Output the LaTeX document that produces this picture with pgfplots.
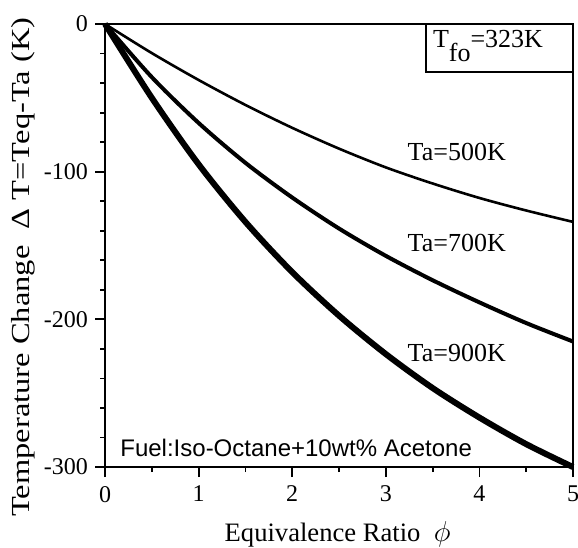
\documentclass[border=0pt]{standalone}
\usepackage{pgfplots}
\pgfplotsset{compat=1.18}
\usepackage{fontspec}
\setmainfont{Liberation Serif}
\newfontfamily\sansfont{Liberation Sans}
\newfontfamily\widefont[FakeStretch=1.25]{Liberation Serif}
\usetikzlibrary{calc}
\begin{document}
\begin{tikzpicture}
\begin{axis}[
    name=ax,
    scale only axis,
    width=234pt, height=221.5pt,
    xmin=0, xmax=5,
    ymin=-300, ymax=0,
    xtick={0,1,2,3,4,5},
    ytick={-300,-200,-100,0},
    minor x tick num=1,
    minor y tick num=4,
    tick pos=left,
    tick align=outside,
    major tick length=5pt,
    minor tick length=2.5pt,
    axis line style={line width=1.2pt},
    every tick/.style={black, line width=0.9pt},
    /pgf/number format/assume math mode=true,
    ticklabel style={font=\fontsize{12}{14}\selectfont},
    xticklabel style={yshift=-1pt},
    xlabel={Equivalence Ratio \ $\phi$},
    xlabel style={font=\fontsize{13.3}{15}\selectfont,
        at={(axis description cs:0.497,-0.152)}, anchor=center},
    ylabel={Temperature Change \ Δ T=Teq-Ta (K)},
    ylabel style={font=\widefont\fontsize{13}{15}\selectfont,
        at={(axis description cs:-0.175,0.451)}, anchor=center},
    clip=false,
]
% Ta=500K
\addplot[black, line width=1.3pt, smooth] coordinates {
    (0,0)(0.5,-19.7)(1,-37.9)(1.5,-54.8)(2,-70.3)(2.5,-84.4)
    (3,-97.1)(3.5,-108)(4,-117.8)(4.5,-126.3)(5,-134)
};
% Ta=700K
\addplot[black, line width=2pt, smooth] coordinates {
    (0,0)(0.5,-36)(1,-67)(1.5,-94)(2,-117.5)(2.5,-138.5)
    (3,-157)(3.5,-173.5)(4,-188.5)(4.5,-202.5)(5,-215)
};
% Ta=900K
\addplot[black, line width=3pt, smooth] coordinates {
    (0,0)(0.5,-50)(1,-95)(1.5,-134)(2,-168)(2.5,-197.5)
    (3,-223.5)(3.5,-246.5)(4,-266.5)(4.5,-284.5)(5,-300)
};
\node[anchor=west, font=\fontsize{13}{15}\selectfont, inner sep=0pt] at (axis cs:3.23,-87) {Ta=500K};
\node[anchor=west, font=\fontsize{13}{15}\selectfont, inner sep=0pt] at (axis cs:3.23,-148) {Ta=700K};
\node[anchor=west, font=\fontsize{13}{15}\selectfont, inner sep=0pt] at (axis cs:3.23,-223) {Ta=900K};
\node[anchor=west, font=\sansfont\fontsize{12}{14}\selectfont, inner sep=0pt] at (axis cs:0.16,-287) {Fuel:Iso-Octane+10wt\% Acetone};
\draw[line width=1.2pt] (axis cs:3.43,0) rectangle (axis cs:5,-32.5);
\node[anchor=base west, font=\fontsize{13}{15}\selectfont, inner sep=0pt] at (axis cs:3.5,-15.6)
    {T\raisebox{-7pt}{fo}=323K};
\end{axis}
\pgfresetboundingbox
\path ($(ax.south west)+(-52.5pt,-40pt)$) rectangle ($(ax.north east)+(2.5pt,12pt)$);
\end{tikzpicture}
\end{document}
